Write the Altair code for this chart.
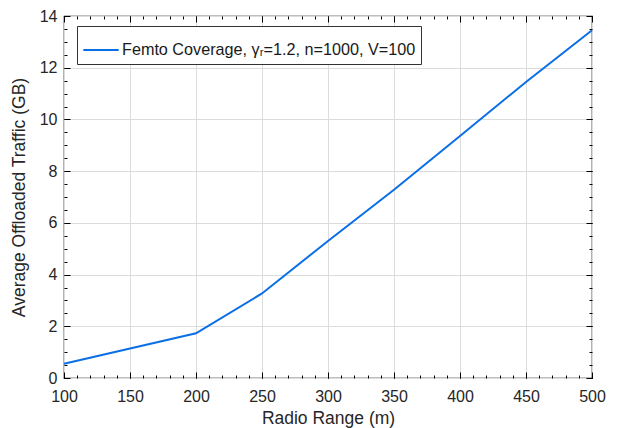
import altair as alt
import pandas as pd

radio_range = [100, 200, 250, 300, 350, 400, 450, 500]
offloaded = [0.55, 1.73, 3.27, 5.3, 7.28, 9.36, 11.45, 13.45]
series_name = "Femto Coverage, γᵣ=1.2, n=1000, V=100"

x_major = list(range(100, 501, 50))
x_minor = list(range(100, 501, 10))
y_major = list(range(0, 15, 2))
y_minor = [v / 2 for v in range(0, 29)]

W, H = 528, 362
FONT = "Liberation Sans"
LINE_COLOR = "#0a6fe6"

df = pd.DataFrame({"x": radio_range, "y": offloaded, "s": [series_name] * len(radio_range)})

xs = alt.Scale(domain=[100, 500], nice=False, zero=False)
ys = alt.Scale(domain=[0, 14], nice=False, zero=False)

base = alt.Chart(df)

main = base.mark_line(strokeWidth=2).encode(
    x=alt.X("x:Q", scale=xs, axis=alt.Axis(
        title="Radio Range (m)", values=x_major, grid=True, ticks=False, domain=False,
        labelPadding=10, titlePadding=5, format="d", labelFlush=False)),
    y=alt.Y("y:Q", scale=ys, axis=alt.Axis(
        title="Average Offloaded Traffic (GB)", values=y_major, grid=True, ticks=False, domain=False,
        labelPadding=7, titlePadding=11, format="d", labelFlush=False)),
    color=alt.Color("s:N", scale=alt.Scale(range=[LINE_COLOR]), legend=alt.Legend(
        title=None, orient="none", legendX=13, legendY=10, symbolType="stroke",
        symbolSize=1250, symbolStrokeWidth=2, labelFont=FONT, labelFontSize=16.2,
        labelColor="#1a1a1a", strokeColor="#333333", fillColor="white", padding=5,
        labelLimit=400, symbolOffset=0, labelOffset=2)),
)

def tick_layer(xvals, yvals, size, xorient, yorient, xoff, yoff):
    return base.mark_point(opacity=0).encode(
        x=alt.X("x:Q", scale=xs, axis=alt.Axis(
            orient=xorient, offset=xoff, values=xvals, labels=False, title=None,
            domain=False, grid=False, ticks=True, tickSize=size, tickColor="#000000")),
        y=alt.Y("y:Q", scale=ys, axis=alt.Axis(
            orient=yorient, offset=yoff, values=yvals, labels=False, title=None,
            domain=False, grid=False, ticks=True, tickSize=size, tickColor="#000000")),
    )

layers = [
    main,
    tick_layer(x_major, y_major, 6, "top", "right", -H, -W),
    tick_layer(x_minor, y_minor, 3, "top", "right", -H, -W),
    tick_layer(x_major, y_major, 6, "bottom", "left", -H, -W),
    tick_layer(x_minor, y_minor, 3, "bottom", "left", -H, -W),
]

chart = alt.layer(*layers).resolve_axis(x="independent", y="independent").properties(
    width=W, height=H,
    background="white",
    autosize=alt.AutoSizeParams(type="none"),
    padding={"left": 64, "top": 16, "right": 28, "bottom": 50},
).configure_view(stroke="#000000", strokeWidth=1.2).configure_axis(
    labelFont=FONT, titleFont=FONT, labelFontSize=16, titleFontSize=17.5,
    labelColor="#262626", titleColor="#262626", titleFontWeight="normal",
    gridColor="#dcdcdc", gridWidth=1, gridOpacity=1,
)

chart.save("out.html", embed_options={"renderer": "svg", "actions": False})
